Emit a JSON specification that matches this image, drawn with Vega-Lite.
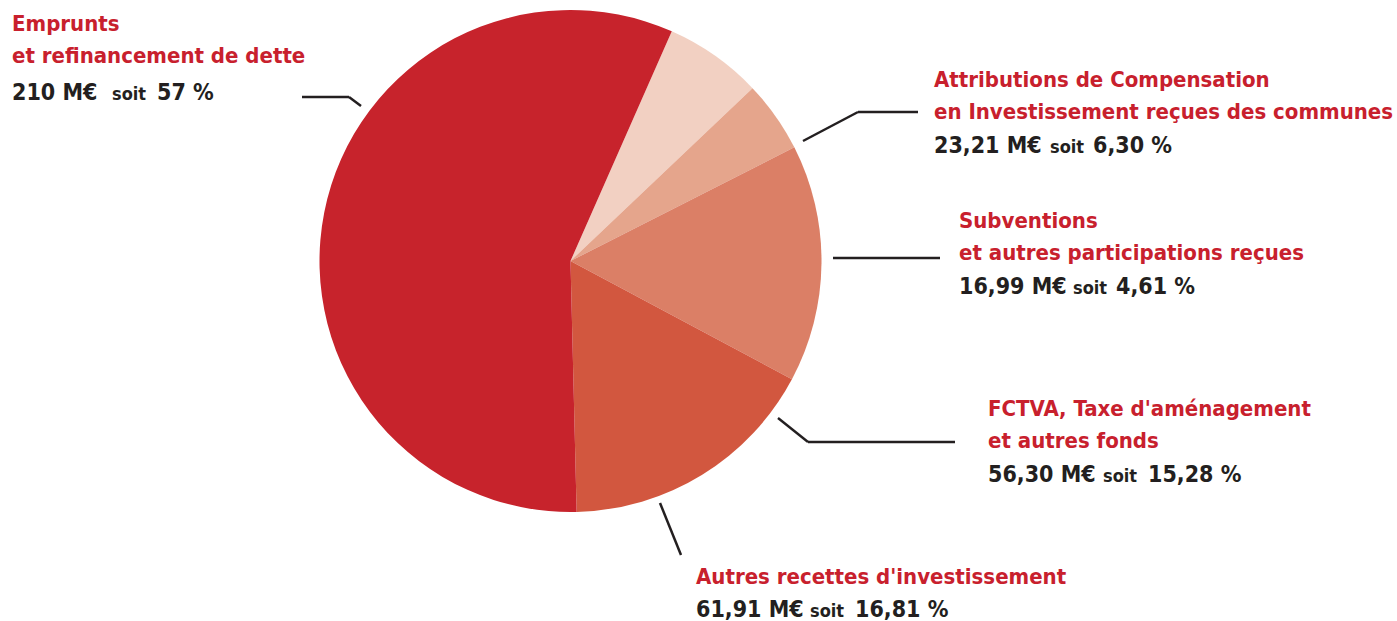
{
  "$schema": "https://vega.github.io/schema/vega-lite/v6.json",
  "width": 1397,
  "height": 621,
  "padding": 0,
  "autosize": {"type": "none"},
  "background": "white",
  "config": {"view": {"stroke": null}},
  "datasets": {
    "slices": [
      {"cat": "Attributions", "value": 23.21, "order": 1},
      {"cat": "Subventions", "value": 16.99, "order": 2},
      {"cat": "FCTVA", "value": 56.30, "order": 3},
      {"cat": "Autres", "value": 61.91, "order": 4},
      {"cat": "Emprunts", "value": 210, "order": 5}
    ],
    "labels": [
      {"cat": "Emprunts", "title": "Emprunts\net refinancement de dette", "tx": 12, "ty": 31, "vy": 100, "amount": "210 M€", "sx": 112, "soit": "soit", "pct": "57 %", "px": 157},
      {"cat": "Attributions", "title": "Attributions de Compensation\nen Investissement reçues des communes", "tx": 934, "ty": 87, "vy": 153, "amount": "23,21 M€", "sx": 1050, "soit": "soit", "pct": "6,30 %", "px": 1093},
      {"cat": "Subventions", "title": "Subventions\net autres participations reçues", "tx": 959, "ty": 228, "vy": 294, "amount": "16,99 M€", "sx": 1073, "soit": "soit", "pct": "4,61 %", "px": 1116},
      {"cat": "FCTVA", "title": "FCTVA, Taxe d'aménagement\net autres fonds", "tx": 988, "ty": 416, "vy": 482, "amount": "56,30 M€", "sx": 1103, "soit": "soit", "pct": "15,28 %", "px": 1148},
      {"cat": "Autres", "title": "Autres recettes d'investissement", "tx": 696, "ty": 584, "vy": 617, "amount": "61,91 M€", "sx": 810, "soit": "soit", "pct": "16,81 %", "px": 855}
    ],
    "leaders": [
      {"x": 302, "y": 97, "x2": 349, "y2": 97},
      {"x": 349, "y": 97, "x2": 361, "y2": 106},
      {"x": 803, "y": 141, "x2": 858, "y2": 112},
      {"x": 858, "y": 112, "x2": 918, "y2": 112},
      {"x": 833, "y": 258, "x2": 940, "y2": 258},
      {"x": 778, "y": 418, "x2": 808, "y2": 442},
      {"x": 808, "y": 442, "x2": 955, "y2": 442},
      {"x": 660, "y": 503, "x2": 681, "y2": 555}
    ]
  },
  "layer": [
    {
      "data": {"name": "slices"},
      "mark": {"type": "arc", "radius": 251, "stroke": null},
      "encoding": {
        "x": {"datum": 570.5, "type": "quantitative", "scale": {"domain": [0, 1397]}, "axis": null},
        "y": {"datum": 261, "type": "quantitative", "scale": {"domain": [0, 621], "reverse": true}, "axis": null},
        "theta": {"field": "value", "type": "quantitative", "stack": true, "scale": {"range": [0.4154, 6.6986]}},
        "order": {"field": "order", "type": "quantitative"},
        "color": {
          "field": "cat",
          "type": "nominal",
          "scale": {
            "domain": ["Attributions", "Subventions", "FCTVA", "Autres", "Emprunts"],
            "range": ["#f2d0c2", "#e5a58c", "#db7f66", "#d2573f", "#c7232c"]
          },
          "legend": null
        }
      }
    },
    {
      "data": {"name": "leaders"},
      "mark": {"type": "rule", "strokeWidth": 2.5, "color": "#231f20"},
      "encoding": {
        "x": {"field": "x", "type": "quantitative", "scale": {"domain": [0, 1397]}, "axis": null},
        "y": {"field": "y", "type": "quantitative", "scale": {"domain": [0, 621], "reverse": true}, "axis": null},
        "x2": {"field": "x2"},
        "y2": {"field": "y2"}
      }
    },
    {
      "data": {"name": "labels"},
      "mark": {"type": "text", "align": "left", "baseline": "alphabetic", "font": "DejaVu Sans Condensed", "fontWeight": "bold", "fontSize": 22, "color": "#c8202d", "lineBreak": "\n", "lineHeight": 32},
      "encoding": {
        "x": {"field": "tx", "type": "quantitative", "scale": {"domain": [0, 1397]}, "axis": null},
        "y": {"field": "ty", "type": "quantitative", "scale": {"domain": [0, 621], "reverse": true}, "axis": null},
        "text": {"field": "title", "type": "nominal"}
      }
    },
    {
      "data": {"name": "labels"},
      "mark": {"type": "text", "align": "left", "baseline": "alphabetic", "font": "DejaVu Sans Condensed", "fontWeight": "bold", "fontSize": 23, "color": "#231f20"},
      "encoding": {
        "x": {"field": "tx", "type": "quantitative", "scale": {"domain": [0, 1397]}, "axis": null},
        "y": {"field": "vy", "type": "quantitative", "scale": {"domain": [0, 621], "reverse": true}, "axis": null},
        "text": {"field": "amount", "type": "nominal"}
      }
    },
    {
      "data": {"name": "labels"},
      "mark": {"type": "text", "align": "left", "baseline": "alphabetic", "font": "DejaVu Sans Condensed", "fontWeight": "bold", "fontSize": 18, "color": "#231f20"},
      "encoding": {
        "x": {"field": "sx", "type": "quantitative", "scale": {"domain": [0, 1397]}, "axis": null},
        "y": {"field": "vy", "type": "quantitative", "scale": {"domain": [0, 621], "reverse": true}, "axis": null},
        "text": {"field": "soit", "type": "nominal"}
      }
    },
    {
      "data": {"name": "labels"},
      "mark": {"type": "text", "align": "left", "baseline": "alphabetic", "font": "DejaVu Sans Condensed", "fontWeight": "bold", "fontSize": 23, "color": "#231f20"},
      "encoding": {
        "x": {"field": "px", "type": "quantitative", "scale": {"domain": [0, 1397]}, "axis": null},
        "y": {"field": "vy", "type": "quantitative", "scale": {"domain": [0, 621], "reverse": true}, "axis": null},
        "text": {"field": "pct", "type": "nominal"}
      }
    }
  ]
}
